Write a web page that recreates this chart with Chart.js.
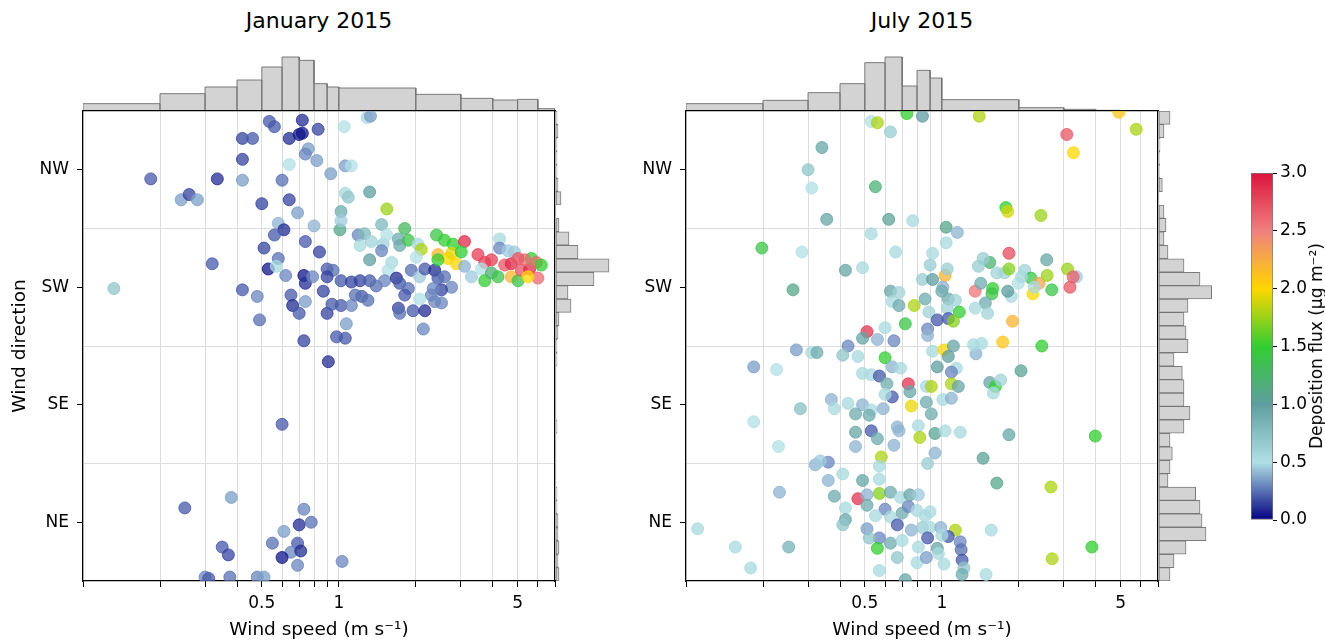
<!DOCTYPE html>
<html lang="en">
<head>
<meta charset="UTF-8">
<title>Wind speed, wind direction and deposition flux</title>
<script src="https://cdn.jsdelivr.net/npm/chart.js@4.4.1/dist/chart.umd.min.js"></script>
<style>
  body { margin: 0; background: #fff; font-family: "DejaVu Sans", sans-serif; }
  #page { position: relative; width: 1325px; height: 644px; overflow: hidden; background: #fff; }
  #page canvas { position: absolute; }
  .panel-title { position: absolute; width: 472px; text-align: center; font-size: 22px; color: #000; }
  #cbar-label { position: absolute; left: 1316px; top: 346px; transform: translate(-50%, -50%) rotate(-90deg);
                white-space: nowrap; font-size: 17px; color: #000; }
</style>
</head>
<body>
<div id="page">
  <div class="panel-title" style="left:83px; top:8px">January 2015</div>
  <div class="panel-title" style="left:686px; top:8px">July 2015</div>

  <canvas id="jan-top" width="472" height="61" style="left:83px; top:50px"></canvas>
  <canvas id="jan-right" width="58" height="470" style="left:556px; top:111px"></canvas>
  <canvas id="jan-main" width="570" height="544" style="left:0px; top:100px"></canvas>

  <canvas id="jul-top" width="472" height="61" style="left:686px; top:50px"></canvas>
  <canvas id="jul-right" width="58" height="470" style="left:1159px; top:111px"></canvas>
  <canvas id="jul-main" width="570" height="544" style="left:603px; top:100px"></canvas>

  <canvas id="cbar" width="60" height="372" style="left:1251px; top:160px"></canvas>
  <div id="cbar-label">Deposition flux (µg m⁻²)</div>
</div>

<script>
// ---- axes ----
const speedTicks = [0.1, 0.2, 0.3, 0.4, 0.5, 0.6, 0.7, 0.8, 0.9, 1, 2, 3, 4, 5, 6, 7];
const speedLabelled = [0.5, 1, 5];
const dirTicks = [45, 135, 225, 315];
const dirLabels = ['NE', 'SE', 'SW', 'NW'];
const dirGrid = [90, 180, 270];

// ---- colour scale for deposition flux ----
const cmapStops = [0, 0.5, 1, 1.5, 2, 2.5, 3];
const cmapColors = ['#000080', '#b0e0e6', '#5f9ea0', '#32cd32', '#ffd700', '#f08080', '#dc143c'];
const cbarTicks = [0, 0.5, 1, 1.5, 2, 2.5, 3];

// ---- marginal histograms ----
const speedBinEdges = [0.1, 0.2, 0.3, 0.4, 0.5, 0.6, 0.7, 0.8, 0.9, 1, 2, 3, 4, 5, 6, 7];
const janSpeedHist = [22, 52, 72, 93, 132, 162, 152, 82, 72, 69, 50, 38, 33, 35, 7];
const julSpeedHist = [22, 32, 55, 82, 145, 162, 75, 122, 99, 34, 10, 5, 2, 1, 1];

const dirBinCentres = [5.1, 15.4, 25.7, 36.0, 46.3, 56.6, 66.9, 77.1, 87.4, 97.7, 108.0, 118.3,
  128.6, 138.9, 149.1, 159.4, 169.7, 180.0, 190.3, 200.6, 210.9, 221.1, 231.4, 241.7,
  252.0, 262.3, 272.6, 282.9, 293.1, 303.4, 313.7, 324.0, 334.3, 344.6, 354.9];
const janDirHist = [9, 6, 9, 6, 6, 3, 3, 0, 0, 0, 0, 3, 0, 0, 0, 0, 3, 3, 6, 9, 45, 36,
  114, 159, 66, 39, 9, 0, 15, 6, 3, 3, 3, 6, 3];
const julDirHist = [33, 45, 81, 141, 129, 123, 110, 27, 33, 40, 33, 75, 93, 75, 75, 70, 45,
  87, 81, 75, 87, 158, 123, 75, 27, 15, 21, 15, 0, 10, 2, 2, 3, 15, 33];

// ---- January 2015 observations ----
const janSpeed = [
  0.535, 0.56, 0.72, 0.83, 1.05, 1.29, 1.33, 0.42, 0.46, 0.64,
  0.70, 0.72, 0.76, 0.74, 0.42, 0.64, 0.82, 0.93, 1.06, 1.12,
  0.184, 0.335, 0.42, 0.60, 0.242, 0.26, 0.28, 0.32, 0.132, 0.42,
  0.50, 0.64, 0.69, 0.58, 0.61, 0.56, 0.74, 0.80, 0.84, 0.51,
  0.58, 0.53, 0.57, 0.62, 0.73, 0.74, 0.79, 0.90, 0.95, 0.90,
  0.48, 0.49, 0.65, 0.66, 0.74, 0.70, 0.87, 0.90, 0.94, 0.73,
  0.91, 0.98, 1.06, 1.07, 1.06, 1.09, 1.02, 1.01, 1.02, 1.32,
  1.54, 1.47, 1.81, 1.19, 1.26, 1.21, 1.34, 1.49, 1.47, 1.54,
  1.32, 1.61, 1.56, 1.71, 1.73, 1.87, 2.04, 2.10, 2.01, 1.02,
  1.12, 1.21, 1.32, 1.40, 1.51, 1.68, 1.73, 1.92, 2.07, 2.17,
  2.37, 2.44, 2.59, 2.76, 2.52, 2.34, 2.30, 1.87, 1.81, 2.07,
  1.23, 1.30, 1.02, 1.12, 1.16, 1.71, 1.73, 1.95, 2.17, 2.37,
  2.52, 2.14, 2.41, 2.59, 2.80, 3.10, 2.44, 2.67, 2.76, 3.01,
  2.44, 2.88, 3.10, 3.30, 3.50, 3.72, 3.95, 4.25, 4.25, 4.58,
  4.86, 3.61, 3.72, 3.95, 4.19, 4.45, 4.72, 4.72, 5.02, 5.17,
  5.57, 5.66, 5.92, 6.00, 6.19, 5.49, 5.33, 5.02, 0.60, 0.38,
  0.25, 0.73, 0.70, 0.78, 0.61, 0.55, 0.69, 0.65, 0.71, 0.35,
  0.37, 0.60, 0.69, 1.03, 0.30, 0.31, 0.375, 0.48, 0.51
];
const janDir = [
  352, 348, 353, 346, 348, 355, 356, 339, 339, 339,
  342, 343, 331, 327, 323, 319, 322, 312, 318, 318,
  308, 308, 307, 307, 292, 296, 292, 243, 224, 223,
  289, 292, 282, 274, 269, 265, 260, 272, 252, 255,
  247, 239, 241, 234, 234, 228, 233, 239, 238, 233,
  218, 200, 219, 211, 214, 205, 222, 205, 212, 184,
  168, 187, 186, 197, 297, 294, 283, 269, 276, 298,
  285, 273, 270, 265, 266, 257, 260, 258, 253, 265,
  246, 244, 238, 262, 257, 261, 258, 254, 248, 230,
  229, 230, 230, 226, 230, 232, 228, 238, 233, 239,
  238, 232, 233, 225, 223, 224, 219, 224, 219, 216,
  218, 215, 211, 211, 219, 209, 205, 207, 207, 214,
  213, 193, 265, 261, 258, 260, 250, 247, 251, 252,
  246, 243, 241, 233, 250, 244, 246, 262, 255, 253,
  252, 239, 230, 236, 233, 242, 243, 233, 230, 238,
  239, 247, 244, 232, 242, 233, 246, 247, 120, 64,
  56, 55, 43, 45, 38, 29, 29, 22, 23, 26,
  20, 18, 12, 15, 3, 2, 3, 3, 3
];
const janFlux = [
  0.2, 0.2, 0.1, 0.15, 0.5, 0.55, 0.35, 0.15, 0.2, 0.1,
  0.05, 0.05, 0.35, 0.3, 0.15, 0.5, 0.35, 0.35, 0.35, 0.5,
  0.2, 0.1, 0.35, 0.25, 0.35, 0.15, 0.35, 0.2, 0.7, 0.2,
  0.15, 0.15, 0.35, 0.4, 0.1, 0.2, 0.2, 0.4, 0.15, 0.15,
  0.25, 0.05, 0.55, 0.3, 0.05, 0.1, 0.3, 0.2, 0.25, 0.15,
  0.3, 0.25, 0.2, 0.1, 0.35, 0.2, 0.15, 0.15, 0.2, 0.15,
  0.1, 0.2, 0.2, 0.35, 0.55, 0.7, 0.9, 1.1, 0.45, 1.0,
  1.75, 0.8, 1.3, 0.3, 0.8, 0.55, 0.6, 0.6, 0.3, 0.5,
  1.0, 0.55, 0.5, 0.9, 0.9, 1.4, 0.55, 1.8, 0.5, 0.2,
  0.15, 0.15, 0.2, 0.25, 0.3, 0.1, 0.2, 0.25, 0.45, 0.2,
  0.1, 0.2, 0.25, 0.3, 0.15, 0.3, 0.3, 0.25, 0.2, 0.5,
  0.2, 0.25, 0.2, 0.3, 0.25, 0.15, 0.25, 0.2, 0.1, 0.3,
  0.3, 0.3, 1.4, 1.5, 1.5, 2.9, 2.2, 2.0, 1.95, 1.5,
  1.5, 2.0, 0.4, 0.45, 2.8, 2.8, 2.8, 0.55, 0.3, 0.45,
  0.45, 0.5, 1.5, 1.2, 1.4, 2.7, 2.9, 2.2, 1.4, 2.7,
  2.9, 1.5, 2.6, 2.6, 1.5, 2.0, 2.6, 2.7, 0.2, 0.35,
  0.2, 0.3, 0.1, 0.25, 0.35, 0.25, 0.2, 0.3, 0.1, 0.2,
  0.15, 0.05, 0.3, 0.3, 0.3, 0.2, 0.25, 0.3, 0.35
];

// ---- July 2015 observations ----
const julSpeed = [
  0.53, 0.56, 0.73, 0.84, 1.40, 4.92, 5.75, 3.08, 3.27, 0.63,
  0.34, 0.30, 0.31, 0.55, 1.78, 1.81, 2.44, 0.355, 0.62, 0.77,
  1.04, 1.15, 0.53, 0.198, 0.284, 0.262, 3.36,
  0.66, 0.92, 1.04, 0.42, 0.49, 0.90, 0.84, 0.92, 1.03, 1.05,
  1.01, 0.63, 0.68, 0.64, 0.68, 0.78, 0.86, 0.89, 1.00, 1.06,
  1.05, 1.13, 0.96, 1.06, 0.88, 0.88, 1.17, 1.11, 1.35, 1.42,
  1.54, 1.45, 1.39, 1.58, 1.57, 1.48, 1.35, 1.51, 1.64, 1.76,
  1.83, 1.83, 1.87, 1.81, 1.89, 1.73, 2.11, 2.23, 1.99, 2.05,
  2.27, 2.40, 2.30, 2.57, 2.58, 2.69, 3.10, 3.26, 3.17, 2.46,
  2.04, 1.54, 1.62, 1.70, 1.59, 0.72, 0.60, 0.51, 0.49, 0.56,
  0.65, 0.43, 0.41, 0.47, 0.60, 0.64, 0.69, 0.92, 1.02, 1.11,
  1.06, 1.36, 1.43, 1.33, 0.96, 1.14, 1.09, 0.49, 0.53, 0.57,
  0.61, 0.74, 0.75, 0.87, 0.91, 1.09, 1.16, 0.64, 0.60, 0.37,
  0.43, 0.38, 0.49, 0.53, 0.59, 0.46, 0.52, 0.76, 0.87, 0.91,
  1.01, 1.09, 0.67, 0.81,
  0.46, 0.53, 0.56, 0.68, 0.46, 0.65, 0.58, 0.57, 0.82, 0.94,
  1.03, 1.18, 0.94, 0.88, 1.45, 1.64, 1.83, 0.32, 0.36, 0.36,
  0.41, 0.335, 0.49, 0.57, 0.38, 0.42, 0.47, 0.51, 0.51, 0.57,
  0.63, 0.69, 0.75, 0.81, 0.60, 0.55, 0.63, 0.70, 0.74, 0.80,
  0.86, 0.90, 0.67, 0.76, 0.84, 0.90, 0.99, 1.13, 1.06, 1.00,
  0.88, 0.42, 0.41, 0.51, 0.57, 0.52, 0.56, 0.63, 0.70, 0.81,
  0.96, 1.18, 1.19, 1.20, 1.22, 1.20, 0.67, 0.80, 0.87, 1.02,
  0.97, 0.57, 0.72, 1.56, 1.49,
  0.27, 0.31, 0.325, 0.184, 0.226, 0.28, 0.184, 3.98, 0.23, 2.67,
  0.232, 3.86, 2.70, 0.111, 0.156, 0.252, 0.179
];
const julDir = [
  352, 351, 358, 356, 356, 359, 346, 342, 328, 344,
  332, 315, 301, 302, 286, 283, 280, 277, 277, 276,
  271, 267, 266, 255, 252, 223, 233,
  252, 251, 259, 238, 240, 242, 231, 231, 234, 239,
  225, 222, 221, 214, 211, 211, 216, 206, 222, 216,
  209, 215, 200, 201, 193, 188, 206, 199, 222, 228,
  244, 247, 241, 224, 220, 213, 209, 205, 236, 236,
  251, 239, 218, 222, 199, 183, 238, 232, 228, 233,
  220, 228, 225, 246, 234, 223, 239, 233, 225, 180,
  161, 152, 149, 154, 144, 197, 194, 191, 186, 185,
  184, 180, 173, 172, 171, 164, 163, 176, 177, 180,
  172, 174, 182, 181, 164, 163, 160, 159, 158, 157,
  151, 151, 145, 149, 149, 151, 149, 141, 143, 139,
  136, 132, 135, 131, 132, 128, 127, 134, 137, 128,
  139, 140, 118, 119,
  114, 115, 109, 115, 103, 104, 95, 88, 110, 113,
  115, 114, 98, 90, 94, 75, 112, 89, 91, 77,
  82, 92, 77, 78, 65, 56, 63, 66, 58, 67,
  68, 64, 66, 66, 55, 50, 49, 52, 57, 54,
  50, 53, 43, 39, 41, 41, 41, 39, 34, 35,
  33, 47, 43, 40, 33, 33, 25, 29, 31, 26,
  25, 30, 24, 16, 10, 5, 18, 14, 18, 13,
  21, 8, 1, 39, 5,
  177, 175, 175, 164, 162, 132, 122, 111, 103, 72,
  68, 26, 17, 40, 26, 26, 10
];
const julFlux = [
  0.5, 1.8, 1.5, 1.0, 1.8, 2.1, 1.8, 2.7, 2.0, 0.65,
  0.95, 0.7, 0.5, 1.2, 1.5, 1.9, 1.75, 0.95, 1.05, 0.55,
  1.1, 0.4, 0.55, 1.4, 0.5, 1.1, 0.45,
  0.55, 0.55, 0.55, 0.95, 0.55, 0.65, 0.65, 1.0, 2.2, 0.65,
  0.4, 0.95, 0.6, 0.55, 0.9, 1.8, 0.9, 0.6, 0.9, 0.9,
  0.6, 0.6, 0.2, 0.2, 0.3, 0.4, 1.5, 1.7, 2.55, 0.9,
  1.2, 0.65, 0.65, 1.5, 1.4, 0.9, 0.55, 0.6, 0.6, 0.6,
  2.75, 1.7, 0.55, 1.0, 2.2, 2.1, 0.6, 1.4, 0.5, 0.55,
  2.0, 2.3, 0.55, 0.95, 1.75, 1.4, 1.75, 2.65, 2.7, 1.5,
  1.05, 0.95, 1.5, 0.6, 0.55, 1.4, 0.55, 2.85, 0.95, 0.4,
  0.3, 0.3, 0.7, 0.55, 1.5, 0.4, 0.55, 0.55, 2.0, 0.95,
  1.0, 0.4, 0.55, 0.55, 1.0, 0.55, 0.3, 0.55, 0.55, 0.2,
  0.9, 2.85, 0.95, 0.55, 1.8, 1.8, 0.95, 0.2, 0.55, 0.4,
  0.55, 0.55, 0.4, 0.55, 0.4, 0.9, 0.9, 1.95, 0.9, 0.9,
  0.55, 0.4, 0.4, 0.55,
  0.95, 0.2, 0.9, 0.4, 0.4, 0.4, 1.8, 0.55, 1.8, 1.05,
  0.55, 0.55, 0.4, 0.65, 1.05, 1.1, 0.95, 0.4, 0.3, 0.4,
  0.55, 0.45, 0.95, 0.55, 0.9, 0.55, 2.85, 0.4, 0.9, 1.7,
  0.9, 0.55, 0.95, 0.45, 0.3, 0.55, 0.55, 0.9, 0.3, 0.55,
  0.55, 0.55, 0.2, 0.4, 0.65, 0.55, 0.4, 1.8, 0.2, 0.55,
  0.2, 0.95, 0.7, 0.35, 0.3, 0.7, 1.5, 0.9, 0.55, 0.55,
  0.95, 0.3, 0.25, 0.2, 0.7, 0.9, 0.7, 0.55, 0.35, 0.55,
  0.55, 0.55, 0.95, 0.55, 0.55,
  0.35, 0.55, 0.9, 0.35, 0.5, 0.75, 0.5, 1.5, 0.5, 1.8,
  0.4, 1.5, 1.8, 0.55, 0.55, 0.85, 0.55
];

Chart.defaults.font.family = "'DejaVu Sans', sans-serif";
Chart.defaults.color = '#000';

const GRID = '#dddddd';
const SPINE = '#000';
const HIST_FILL = '#d3d3d3';
const HIST_EDGE = 'rgba(110,110,110,0.9)';
const TICK_FONT = { size: 17 };
const LABEL_FONT = { size: 18.5 };

function hexRgb(h) {
  return [parseInt(h.slice(1, 3), 16), parseInt(h.slice(3, 5), 16), parseInt(h.slice(5, 7), 16)];
}

// linear interpolation through the colour stops
function fluxColour(v, alpha) {
  let i = 0;
  while (i < cmapStops.length - 2 && v > cmapStops[i + 1]) i++;
  let t = (v - cmapStops[i]) / (cmapStops[i + 1] - cmapStops[i]);
  t = Math.max(0, Math.min(1, t));
  const a = hexRgb(cmapColors[i]), b = hexRgb(cmapColors[i + 1]);
  const c = a.map((x, k) => Math.round(x + (b[k] - x) * t));
  return `rgba(${c[0]},${c[1]},${c[2]},${alpha})`;
}

function isLabelled(v) {
  return speedLabelled.some(s => Math.abs(s - v) < 1e-9);
}

// keep tick labels from pushing the plot area around
function noLabelPadding(s) {
  s.paddingTop = 0; s.paddingBottom = 0; s.paddingLeft = 0; s.paddingRight = 0;
}

function mainChart(id, speed, dir, flux, yTitle) {
  const points = speed.map((s, i) => ({ x: s, y: dir[i] }));
  return new Chart(document.getElementById(id), {
    type: 'scatter',
    data: {
      datasets: [{
        data: points,
        clip: 0,
        pointRadius: 6,
        pointHoverRadius: 6,
        borderWidth: 1,
        backgroundColor: ctx => fluxColour(flux[ctx.dataIndex], 0.75),
        borderColor: ctx => fluxColour(flux[ctx.dataIndex], 0.8)
      }]
    },
    options: {
      responsive: false,
      animation: false,
      events: [],
      layout: { padding: { top: 11, right: 15, left: 0, bottom: 0 } },
      plugins: { legend: { display: false }, tooltip: { enabled: false } },
      scales: {
        x: {
          type: 'logarithmic', position: 'bottom', min: 0.1, max: 7,
          afterBuildTicks: s => { s.ticks = speedTicks.map(v => ({ value: v })); },
          afterFit: s => { s.height = 63; noLabelPadding(s); },
          ticks: {
            autoSkip: false, maxRotation: 0, padding: 6,
            font: TICK_FONT,
            callback: v => isLabelled(v) ? String(v) : ''
          },
          grid: { color: GRID, tickColor: SPINE, tickLength: 6 },
          border: { color: SPINE, width: 1.2 },
          title: { display: true, text: 'Wind speed (m s⁻¹)', font: LABEL_FONT, padding: { top: 0, bottom: 3 } }
        },
        x2: {
          type: 'logarithmic', position: 'top', min: 0.1, max: 7, display: true,
          afterFit: s => { s.height = 0; noLabelPadding(s); },
          ticks: { display: false },
          grid: { display: false },
          border: { color: SPINE, width: 1.2 }
        },
        y: {
          type: 'linear', position: 'left', min: 0, max: 360,
          afterBuildTicks: s => { s.ticks = dirTicks.map(v => ({ value: v })); },
          afterFit: s => { s.width = 83; noLabelPadding(s); },
          ticks: {
            padding: 8, font: TICK_FONT,
            callback: v => dirLabels[dirTicks.indexOf(v)]
          },
          grid: { drawOnChartArea: false, tickColor: SPINE, tickLength: 6 },
          border: { color: SPINE, width: 1.2 },
          title: { display: yTitle, text: 'Wind direction', font: LABEL_FONT, padding: { top: 9, bottom: 0 } }
        },
        y2: {
          type: 'linear', position: 'right', min: 0, max: 360, display: true,
          afterBuildTicks: s => { s.ticks = dirGrid.map(v => ({ value: v })); },
          afterFit: s => { s.width = 0; noLabelPadding(s); },
          ticks: { display: false },
          grid: { color: GRID, drawTicks: false },
          border: { color: SPINE, width: 1.2 }
        }
      }
    }
  });
}

// outline of the speed histogram, bar by bar
function histOutline(edges, heights) {
  const pts = [];
  heights.forEach((h, i) => {
    pts.push({ x: edges[i], y: 0 }, { x: edges[i], y: h }, { x: edges[i + 1], y: h }, { x: edges[i + 1], y: 0 });
  });
  return pts;
}

function topHist(id, heights) {
  return new Chart(document.getElementById(id), {
    type: 'scatter',
    data: {
      datasets: [{
        data: histOutline(speedBinEdges, heights),
        showLine: true,
        fill: 'origin',
        pointRadius: 0,
        borderWidth: 1,
        borderColor: HIST_EDGE,
        backgroundColor: HIST_FILL
      }]
    },
    options: {
      responsive: false, animation: false, events: [],
      plugins: { legend: { display: false }, tooltip: { enabled: false } },
      scales: {
        x: { type: 'logarithmic', min: 0.1, max: 7, display: false },
        y: { type: 'linear', min: 0, max: 183, display: false }
      }
    }
  });
}

function rightHist(id, counts) {
  return new Chart(document.getElementById(id), {
    type: 'bar',
    data: {
      datasets: [{
        data: counts.map((c, i) => ({ x: c, y: dirBinCentres[i] })),
        backgroundColor: HIST_FILL,
        borderColor: HIST_EDGE,
        borderWidth: ctx => (ctx.raw && ctx.raw.x > 0 ? 1 : 0),
        borderSkipped: false,
        barPercentage: 1,
        categoryPercentage: 1
      }]
    },
    options: {
      indexAxis: 'y',
      responsive: false, animation: false, events: [],
      plugins: { legend: { display: false }, tooltip: { enabled: false } },
      scales: {
        x: { type: 'linear', min: 0, max: 174, display: false },
        y: { type: 'linear', min: 0, max: 360, offset: false, display: false }
      }
    }
  });
}

function cbarGradient(chart) {
  const y = chart.scales.y;
  if (!chart.chartArea || !y) return cmapColors[0];
  const lo = cmapStops[0], hi = cmapStops[cmapStops.length - 1];
  const g = chart.ctx.createLinearGradient(0, y.getPixelForValue(lo), 0, y.getPixelForValue(hi));
  cmapStops.forEach((s, i) => g.addColorStop((s - lo) / (hi - lo), cmapColors[i]));
  return g;
}

mainChart('jan-main', janSpeed, janDir, janFlux, true);
mainChart('jul-main', julSpeed, julDir, julFlux, false);
topHist('jan-top', janSpeedHist);
topHist('jul-top', julSpeedHist);
rightHist('jan-right', janDirHist);
rightHist('jul-right', julDirHist);

new Chart(document.getElementById('cbar'), {
  type: 'bar',
  data: {
    labels: [''],
    datasets: [{
      data: [[cmapStops[0], cmapStops[cmapStops.length - 1]]],
      backgroundColor: ctx => cbarGradient(ctx.chart),
      borderColor: '#777',
      borderWidth: 1,
      borderSkipped: false,
      barPercentage: 1,
      categoryPercentage: 1
    }]
  },
  options: {
    responsive: false, animation: false, events: [],
    layout: { padding: { top: 13, bottom: 12, left: 0, right: 0 } },
    plugins: { legend: { display: false }, tooltip: { enabled: false } },
    scales: {
      x: { display: false },
      y: {
        position: 'right', min: 0, max: 3,
        afterBuildTicks: s => { s.ticks = cbarTicks.map(v => ({ value: v })); },
        afterFit: s => { s.width = 38; noLabelPadding(s); },
        ticks: { padding: 3, font: TICK_FONT, callback: v => v.toFixed(1) },
        grid: { drawOnChartArea: false, tickColor: SPINE, tickLength: 4 },
        border: { display: false }
      }
    }
  }
});
</script>
</body>
</html>
